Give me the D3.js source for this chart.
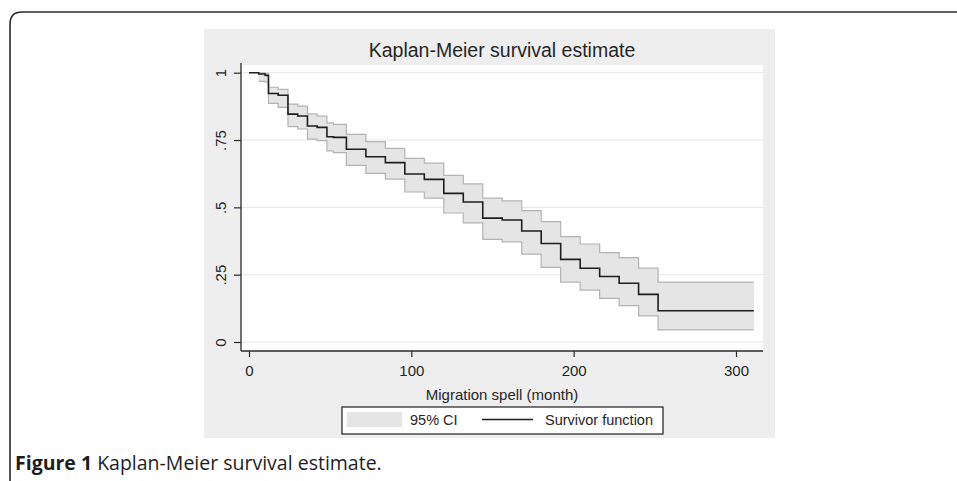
<!DOCTYPE html>
<html lang="en">
<head>
    <meta charset="UTF-8"/>
    <title>Kaplan-Meier survival estimate</title>
    <script src="https://d3js.org/d3.v7.min.js"></script>
    <style>
        body { margin: 0; background: #ffffff; }
    </style>
</head>
<body>
    <script>
        // step times (months) and estimates
        var times    = [0, 6, 10, 12, 18, 24, 30, 36, 42, 48, 52, 60, 72, 84, 96, 108, 120, 132, 144, 156, 168, 180, 192, 204, 216, 228, 240, 252];
        var survival = [1, 0.995, 0.990, 0.923, 0.916, 0.846, 0.839, 0.802, 0.797, 0.762, 0.760, 0.716, 0.688, 0.666, 0.624, 0.604, 0.552, 0.520, 0.460, 0.453, 0.412, 0.366, 0.307, 0.274, 0.243, 0.218, 0.177, 0.116];
        var ciUpper  = [1, 0.999, 0.998, 0.946, 0.938, 0.883, 0.876, 0.847, 0.839, 0.814, 0.808, 0.771, 0.744, 0.719, 0.682, 0.664, 0.619, 0.587, 0.534, 0.524, 0.488, 0.447, 0.391, 0.364, 0.332, 0.313, 0.274, 0.222];
        var ciLower  = [1, 0.968, 0.965, 0.886, 0.871, 0.800, 0.791, 0.753, 0.748, 0.710, 0.703, 0.656, 0.626, 0.605, 0.557, 0.534, 0.479, 0.442, 0.381, 0.372, 0.326, 0.277, 0.222, 0.193, 0.162, 0.135, 0.097, 0.045];
        var endTime  = 311;

        var xTicks = [0, 100, 200, 300];
        var yTicks = [0, 0.25, 0.5, 0.75, 1];
        var yTickLabels = ["0", ".25", ".5", ".75", "1"];

        var w = 957;
        var h = 481;

        // plot region
        var plotLeft = 241, plotRight = 763, plotTop = 65, plotBottom = 351;

        var steps = times.map(function(t, i) {
            return { t: t, s: survival[i], hi: ciUpper[i], lo: ciLower[i] };
        });
        steps.push({ t: endTime, s: survival[survival.length - 1],
                     hi: ciUpper[ciUpper.length - 1], lo: ciLower[ciLower.length - 1] });
        var band = steps.slice(1);

        var xScale = d3.scaleLinear()
                        .domain([0, 300])
                        .range([249, 736]);

        var yScale = d3.scaleLinear()
                        .domain([0, 1])
                        .range([342, 72.7]);

        var svg = d3.select("body")
                    .append("svg")
                    .attr("width", w)
                    .attr("height", h);

        // page frame with rounded corner
        svg.append("path")
           .attr("d", "M10,481 L10,24 Q10,12 22,12 L957,12")
           .attr("fill", "none")
           .attr("stroke", "#2a2a2a")
           .attr("stroke-width", 1.6);

        // graph background
        svg.append("rect")
           .attr("x", 204).attr("y", 29)
           .attr("width", 571).attr("height", 409)
           .attr("fill", "#eeeeee");

        svg.append("rect")
           .attr("x", plotLeft).attr("y", plotTop)
           .attr("width", plotRight - plotLeft).attr("height", plotBottom - plotTop)
           .attr("fill", "#ffffff");

        // grid lines
        svg.selectAll("line.grid")
           .data(yTicks)
           .enter()
           .append("line")
           .attr("class", "grid")
           .attr("x1", plotLeft).attr("x2", plotRight)
           .attr("y1", function(d) { return yScale(d); })
           .attr("y2", function(d) { return yScale(d); })
           .attr("stroke", "#e6e6e6")
           .attr("stroke-width", 1);

        // confidence band
        var area = d3.area()
                     .curve(d3.curveStepAfter)
                     .x(function(d) { return xScale(d.t); })
                     .y0(function(d) { return yScale(d.lo); })
                     .y1(function(d) { return yScale(d.hi); });

        svg.append("path")
           .datum(band)
           .attr("d", area)
           .attr("fill", "#e5e5e5");

        var upperLine = d3.line()
                          .curve(d3.curveStepAfter)
                          .x(function(d) { return xScale(d.t); })
                          .y(function(d) { return yScale(d.hi); });

        var lowerLine = d3.line()
                          .curve(d3.curveStepAfter)
                          .x(function(d) { return xScale(d.t); })
                          .y(function(d) { return yScale(d.lo); });

        svg.append("path")
           .datum(band)
           .attr("d", upperLine)
           .attr("fill", "none")
           .attr("stroke", "#b4b4b4")
           .attr("stroke-width", 1.2);

        svg.append("path")
           .datum(band)
           .attr("d", lowerLine)
           .attr("fill", "none")
           .attr("stroke", "#b4b4b4")
           .attr("stroke-width", 1.2);

        // survivor function
        var survLine = d3.line()
                         .curve(d3.curveStepAfter)
                         .x(function(d) { return xScale(d.t); })
                         .y(function(d) { return yScale(d.s); });

        svg.append("path")
           .datum(steps)
           .attr("d", survLine)
           .attr("fill", "none")
           .attr("stroke", "#1e1e1e")
           .attr("stroke-width", 1.6);

        // axes
        var xAxis = d3.axisBottom(xScale)
                      .tickValues(xTicks)
                      .tickSize(6)
                      .tickFormat(d3.format("d"));

        var yAxis = d3.axisLeft(yScale)
                      .tickValues(yTicks)
                      .tickSize(7)
                      .tickFormat(function(d, i) { return yTickLabels[i]; });

        var gx = svg.append("g")
                    .attr("transform", "translate(0," + plotBottom + ")")
                    .call(xAxis);
        gx.select(".domain").remove();
        gx.append("line")
          .attr("x1", plotLeft).attr("x2", plotRight)
          .attr("stroke", "#2a2a2a").attr("stroke-width", 1.3);

        var gy = svg.append("g")
                    .attr("transform", "translate(" + plotLeft + ",0)")
                    .call(yAxis);
        gy.select(".domain").remove();
        gy.append("line")
          .attr("y1", plotTop - 2).attr("y2", plotBottom)
          .attr("stroke", "#2a2a2a").attr("stroke-width", 1.3);

        svg.selectAll(".tick line").attr("stroke", "#2a2a2a").attr("stroke-width", 1.2);
        svg.selectAll(".tick text")
           .attr("font-family", "Liberation Sans, Arial, sans-serif")
           .attr("font-size", "15px")
           .attr("fill", "#262626");

        gx.selectAll(".tick text").attr("dy", "1.05em");

        gy.selectAll(".tick text")
          .attr("x", null).attr("dy", null)
          .attr("text-anchor", "middle")
          .attr("transform", "translate(-15,0) rotate(-90)")
          .attr("y", 0);

        // titles
        svg.append("text")
           .attr("text-anchor", "middle")
           .attr("x", 502)
           .attr("y", 57)
           .attr("font-family", "Liberation Sans, Arial, sans-serif")
           .attr("font-size", "19.5px")
           .attr("fill", "#262626")
           .text("Kaplan-Meier survival estimate");

        svg.append("text")
           .attr("text-anchor", "middle")
           .attr("x", 502)
           .attr("y", 400)
           .attr("font-family", "Liberation Sans, Arial, sans-serif")
           .attr("font-size", "15px")
           .attr("fill", "#262626")
           .text("Migration spell (month)");

        // legend
        var legend = svg.append("g");
        legend.append("rect")
              .attr("x", 342).attr("y", 407)
              .attr("width", 321).attr("height", 27)
              .attr("fill", "#ffffff")
              .attr("stroke", "#1e1e1e")
              .attr("stroke-width", 1.2);
        legend.append("rect")
              .attr("x", 347).attr("y", 412)
              .attr("width", 55).attr("height", 15)
              .attr("fill", "#e5e5e5");
        legend.append("text")
              .attr("x", 410).attr("y", 425)
              .attr("font-family", "Liberation Sans, Arial, sans-serif")
              .attr("font-size", "14.5px")
              .attr("fill", "#262626")
              .text("95% CI");
        legend.append("line")
              .attr("x1", 482).attr("x2", 533)
              .attr("y1", 419.5).attr("y2", 419.5)
              .attr("stroke", "#1e1e1e")
              .attr("stroke-width", 1.4);
        legend.append("text")
              .attr("x", 545).attr("y", 425)
              .attr("font-family", "Liberation Sans, Arial, sans-serif")
              .attr("font-size", "14.5px")
              .attr("fill", "#262626")
              .text("Survivor function");

        // caption
        var caption = svg.append("text")
                         .attr("x", 15)
                         .attr("y", 470)
                         .attr("font-family", "Open Sans, sans-serif")
                         .attr("font-size", "19.5px")
                         .attr("fill", "#1e1e1e");
        caption.append("tspan")
               .attr("font-weight", "bold")
               .text("Figure 1");
        caption.append("tspan")
               .text(" Kaplan-Meier survival estimate.");
    </script>
</body>
</html>
